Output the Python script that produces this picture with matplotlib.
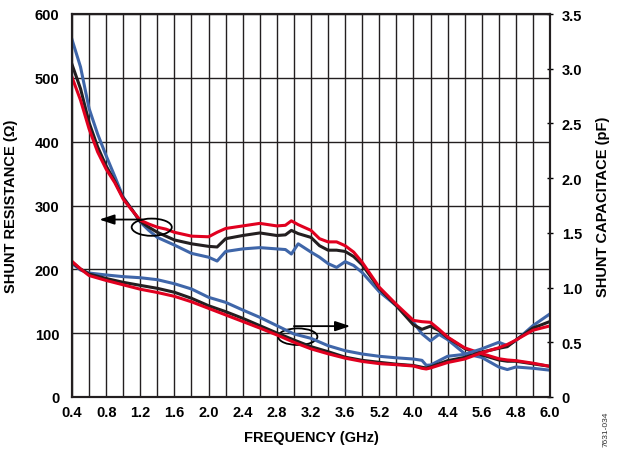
import numpy as np
import matplotlib
matplotlib.use("Agg")
import matplotlib.pyplot as plt
from matplotlib.patches import Ellipse

plt.rcParams['font.family'] = ['Liberation Sans', 'DejaVu Sans']
plt.rcParams['font.weight'] = 'bold'

# Frequences (GHz) des courbes de resistance
f_res = [0.4, 0.5, 0.6, 0.7, 0.8, 0.9, 1.0, 1.1, 1.2, 1.3, 1.4, 1.5, 1.6, 1.8, 2.0, 2.1, 2.2,
         2.4, 2.6, 2.8, 2.9, 2.97, 3.05, 3.2, 3.3, 3.4, 3.5, 3.6, 3.7, 3.8, 4.0, 4.2, 4.4,
         4.5, 4.6, 4.7, 4.8, 5.0, 5.2, 5.4, 5.5, 5.6, 5.8, 6.0]
res_blue = [560, 517, 452, 412, 378, 346, 313, 294, 274, 261, 250, 244, 238, 225, 219, 213, 228,
            232, 234, 232, 231, 224, 240, 227, 219, 209, 203, 212, 206, 195, 165, 143, 117,
            99, 88, 98, 90, 68, 62, 47, 43, 47, 45, 42]
res_black = [521, 483, 430, 392, 362, 338, 312, 294, 275, 266, 258, 252, 246, 240, 236, 235, 248,
             253, 257, 253, 254, 261, 256, 250, 237, 230, 230, 228, 220, 207, 170, 143, 113,
             106, 111, 104, 93, 76, 66, 58, 56, 56, 52, 48]
res_red = [501, 465, 420, 384, 357, 336, 310, 293, 277, 271, 266, 263, 258, 252, 251, 258, 264,
           268, 272, 268, 269, 276, 270, 261, 248, 243, 243, 237, 227, 211, 172, 145, 120,
           118, 117, 106, 94, 77, 68, 60, 58, 57, 53, 48]

# Frequences (GHz) des courbes de capacite
f_cap = [0.4, 0.5, 0.6, 0.8, 1.0, 1.2, 1.4, 1.6, 1.8, 2.0, 2.2, 2.4, 2.6, 2.8, 3.0, 3.2, 3.4,
         3.6, 3.8, 4.0, 4.2, 4.4, 4.5, 4.55, 4.6, 4.8, 5.0, 5.2, 5.4, 5.5, 5.6, 5.8, 6.0]
cap_blue = [1.22, 1.16, 1.133, 1.115, 1.10, 1.09, 1.072, 1.035, 0.987, 0.911, 0.865, 0.795,
            0.728, 0.652, 0.576, 0.536, 0.469, 0.423, 0.393, 0.372, 0.358, 0.347, 0.335,
            0.29, 0.292, 0.372, 0.39, 0.44, 0.50, 0.47, 0.515, 0.652, 0.76]
cap_black = [1.23, 1.17, 1.124, 1.083, 1.048, 1.02, 0.993, 0.957, 0.902, 0.834, 0.78, 0.719,
             0.652, 0.585, 0.521, 0.46, 0.414, 0.364, 0.335, 0.317, 0.30, 0.288, 0.272,
             0.265, 0.275, 0.332, 0.362, 0.41, 0.445, 0.46, 0.52, 0.63, 0.69]
cap_red = [1.24, 1.17, 1.11, 1.065, 1.025, 0.985, 0.955, 0.92, 0.87, 0.81, 0.75, 0.69,
           0.63, 0.567, 0.50, 0.44, 0.395, 0.355, 0.325, 0.305, 0.295, 0.283, 0.262,
           0.256, 0.265, 0.315, 0.347, 0.405, 0.45, 0.48, 0.52, 0.61, 0.65]

# Etiquettes de l'axe x (telles qu'imprimees sur l'original)
xtick_pos = [0.4, 0.8, 1.2, 1.6, 2.0, 2.4, 2.8, 3.2, 3.6, 4.0, 4.4, 4.8, 5.2, 5.6, 6.0]
xtick_lab = ['0.4', '0.8', '1.2', '1.6', '2.0', '2.4', '2.8', '3.2', '3.6', '5.2', '4.0',
             '4.4', '5.6', '4.8', '6.0']

c_blue = '#3f66a9'
c_black = '#231f20'
c_red = '#e1001f'
lw = 2.2

fig = plt.figure(figsize=(6.17, 4.52), dpi=100)
ax = fig.add_axes([72 / 617, 1 - 398 / 452, 478 / 617, 383 / 452])
ax2 = ax.twinx()

ax.set_xlim(0.4, 6.0)
ax.set_ylim(0, 600)
ax2.set_ylim(0, 3.5)

# Grille
ax.set_xticks(xtick_pos)
ax.set_xticklabels(xtick_lab)
ax.set_xticks(np.arange(0.4, 6.01, 0.2), minor=True)
ax.set_yticks(np.arange(0, 601, 100))
ax.grid(True, which='both', axis='x', color='#231f20', lw=1.0)
ax.grid(True, which='major', axis='y', color='#231f20', lw=1.0)
ax.set_axisbelow(True)
ax.tick_params(axis='both', which='both', length=0, labelsize=10.5, pad=6)
ax.tick_params(axis='y', pad=9)

ax2.set_yticks(np.arange(0, 3.51, 0.5))
ax2.set_yticklabels(['0', '0.5', '1.0', '1.5', '2.0', '2.5', '3.0', '3.5'])
ax2.tick_params(axis='y', direction='inout', length=5, width=1.0, labelsize=10.5, pad=6)

for a in (ax, ax2):
    for s in a.spines.values():
        s.set_linewidth(1.5)
        s.set_color('#231f20')

# Courbes de resistance
ax.plot(f_res, res_blue, color=c_blue, lw=lw, solid_joinstyle='round')
ax.plot(f_res, res_black, color=c_black, lw=lw, solid_joinstyle='round')
ax.plot(f_res, res_red, color=c_red, lw=lw, solid_joinstyle='round')

# Courbes de capacite
ax2.plot(f_cap, cap_blue, color=c_blue, lw=lw, solid_joinstyle='round')
ax2.plot(f_cap, cap_black, color=c_black, lw=lw, solid_joinstyle='round')
ax2.plot(f_cap, cap_red, color=c_red, lw=lw, solid_joinstyle='round')

# Ellipses et fleches (coordonnees de l'axe de droite, en pF)
k = 3.5 / 600
ax2.add_patch(Ellipse((1.334, 266 * k), 0.47, 27 * k, fill=False, ec='black', lw=1.3))
ax2.annotate('', xy=(0.72, 278 * k), xytext=(1.22, 278 * k),
             arrowprops=dict(arrowstyle='-|>,head_length=0.9,head_width=0.3',
                             color='black', lw=1.3, shrinkA=0, shrinkB=0))
ax2.add_patch(Ellipse((3.045, 94.5 * k), 0.46, 26 * k, fill=False, ec='black', lw=1.3))
ax2.annotate('', xy=(3.66, 111 * k), xytext=(3.0, 111 * k),
             arrowprops=dict(arrowstyle='-|>,head_length=0.9,head_width=0.3',
                             color='black', lw=1.3, shrinkA=0, shrinkB=0))

ax.set_xlabel('FREQUENCY (GHz)', fontsize=10.5, fontweight='bold', labelpad=8)
ax.set_ylabel('SHUNT RESISTANCE (Ω)', fontsize=10.5, fontweight='bold', labelpad=12)
ax2.set_ylabel('SHUNT CAPACITACE (pF)', fontsize=10.5, fontweight='bold', labelpad=10)

fig.text(0.983, 0.05, '7631-034', rotation=90, fontsize=6, fontweight='normal',
         color='#333333', ha='center', va='center')

fig.savefig('out.png', dpi=100)
